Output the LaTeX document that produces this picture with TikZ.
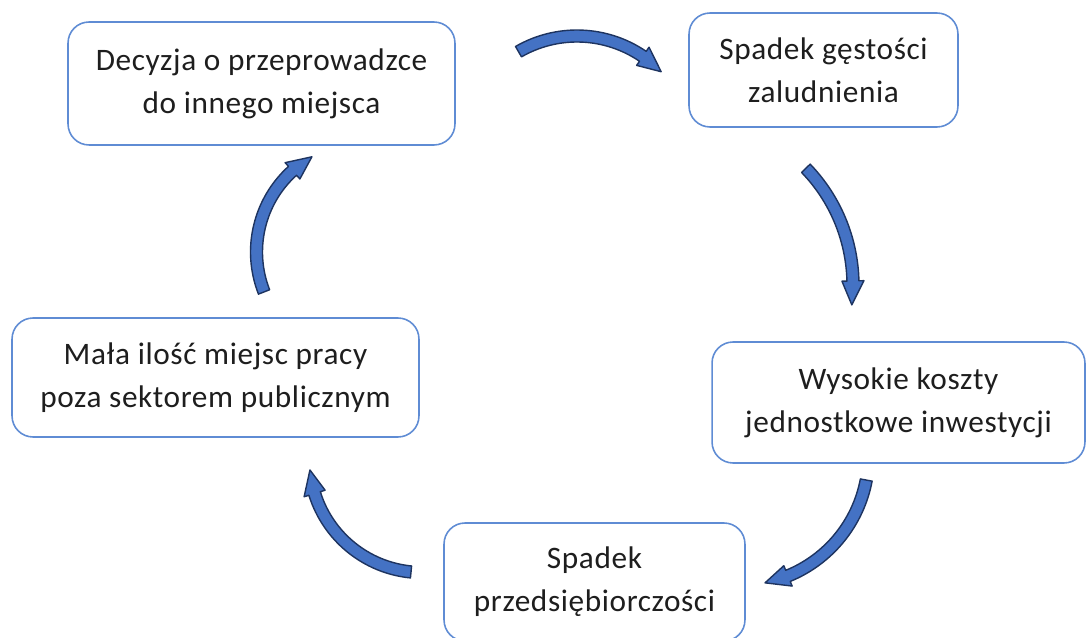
\documentclass[tikz,border=0pt]{standalone}
\usepackage{fontspec}
\setmainfont{Carlito}[LetterSpace=2.0]
\usepackage{tikz,xcolor}
\usetikzlibrary{calc}

\definecolor{boxline}{RGB}{95,140,212}
\definecolor{arrowfill}{RGB}{68,114,196}
\definecolor{arrowline}{RGB}{30,52,96}
\definecolor{textgray}{RGB}{30,30,30}

\tikzset{
  cyclebox/.style={draw=boxline, line width=0.9pt, rounded corners=0.42cm, fill=white,
    align=center, inner sep=0pt, text=textgray, font=\fontsize{17.8}{24.4}\selectfont},
  cyclearrow/.style={fill=arrowfill, draw=arrowline, line width=0.8pt, line join=round}
}

% curved block arrow: centre x, centre y, radius, start angle, end angle
\newcommand{\bendarrow}[5]{%
  \pgfmathsetmacro{\ahead}{#5-24/#3*180/pi}
  \pgfmathsetmacro{\rout}{#3+6}
  \pgfmathsetmacro{\rin}{#3-6}
  \pgfmathsetmacro{\hout}{#3+11}
  \pgfmathsetmacro{\hin}{#3-11}
  \coordinate (ctr) at (#1,#2);
  \path[cyclearrow] ($(ctr)+(#4:\rout)$) arc[start angle=#4, end angle=\ahead, radius=\rout]
    -- ($(ctr)+(\ahead:\hout)$) -- ($(ctr)+(#5:#3)$) -- ($(ctr)+(\ahead:\hin)$)
    -- ($(ctr)+(\ahead:\rin)$) arc[start angle=\ahead, end angle=#4, radius=\rin] -- cycle;
}

\begin{document}
\begin{tikzpicture}[x=0.02cm, y=-0.02cm]
  \useasboundingbox (0,0) rectangle (1086,638);
  \clip (0,0) rectangle (1086,638);

  % boxes of the cycle
  \node[cyclebox, minimum width=7.74cm, minimum height=2.46cm] (decyzja) at (261.5,83.5)
    {Decyzja o przeprowadzce\\do innego miejsca};
  \node[cyclebox, minimum width=5.38cm, minimum height=2.28cm] (gestosc) at (823.5,70)
    {Spadek gęstości\\zaludnienia};
  \node[cyclebox, minimum width=7.46cm, minimum height=2.42cm] (koszty) at (898.5,402.5)
    {Wysokie koszty\\jednostkowe inwestycji};
  \node[cyclebox, minimum width=6.02cm, minimum height=2.36cm] (przeds) at (594.5,582)
    {Spadek\\przedsiębiorczości};
  \node[cyclebox, minimum width=8.14cm, minimum height=2.38cm] (praca) at (215.5,377.5)
    {Mała ilość miejsc pracy\\poza sektorem publicznym};

  % arrows between them
  \bendarrow{577}{153}{117}{-120}{-44}
  \bendarrow{685}{285}{168}{-44}{6.8}
  \bendarrow{739}{456}{129.5}{10.7}{78.4}
  \bendarrow{422}{460}{112.5}{95.6}{174.9}
  \bendarrow{366}{252}{109.5}{158.6}{240.4}
\end{tikzpicture}
\end{document}
